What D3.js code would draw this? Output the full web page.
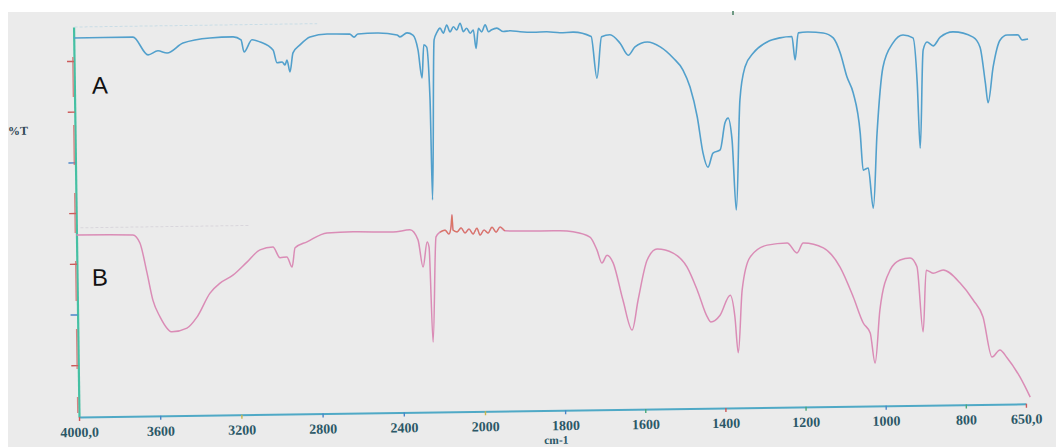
<!DOCTYPE html>
<html><head><meta charset="utf-8">
<script src="https://cdn.jsdelivr.net/npm/d3@7"></script>
<style>html,body{margin:0;padding:0;background:#fff;}svg{display:block;}</style>
</head><body>
<svg id="chart" width="1056" height="447"></svg>
<script>
// ---- data ----
const xTickValues = [4000, 3600, 3200, 2800, 2400, 2000, 1800, 1600, 1400, 1200, 1000, 800, 650];
const xTickLabels = ["4000,0", "3600", "3200", "2800", "2400", "2000", "1800", "1600", "1400", "1200", "1000", "800", "650,0"];
const yTickValues = [13.3, 26.3, 39.3, 52.3, 65.3, 78.3, 91.3];
const seriesNames = ["A", "B"];
const xTitle = "cm-1";
const yTitle = "%T";

const waveA = [4000,3708,3635,3586,3541,3462,3329,3215,3176,3162,3122,3082,3019,3000,2975,2961,2951,2937,2921,2886,2836,2752,2640,2619,2600,2505,2407,2393,2358,2329,2305,2287,2276,2262,2249,2244,2225,2210,2195,2179,2162,2146,2129,2113,2096,2080,2064,2047,2031,2019,2006,1995,1986,1978,1970,1957,1941,1924,1899,1866,1833,1799,1767,1722,1709,1696,1675,1650,1630,1613,1582,1550,1518,1494,1477,1460,1447,1435,1422,1404,1391,1383,1374,1366,1353,1339,1318,1283,1251,1221,1214,1205,1183,1143,1118,1101,1085,1070,1054,1048,1035,1024,1012,995,969,944,919,910,905,894,884,869,851,819,769,752,740,734,720,702,684,657,647,632];
const transA = [97.2,97.2,92.6,93.6,93.0,95.5,96.7,96.9,96.1,93.0,96.1,95.5,93.4,90.1,90.3,89.5,90.8,87.7,92.6,94.6,96.6,97.3,97.2,96.4,97.2,97.4,96.8,96.3,97.3,96.7,92.9,85.7,94.2,93.6,80.0,54.4,95.4,97.4,98.4,97.1,99.2,97.4,98.7,97.9,99.6,97.4,98.3,97.0,97.8,93.1,98.2,97.3,99.1,97.3,97.8,98.2,97.3,97.5,97.2,97.0,97.1,96.8,96.9,95.7,85.0,95.6,96.1,93.9,90.8,92.9,94.1,92.8,89.9,86.8,82.4,74.7,65.5,61.8,65.4,66.2,73.1,74.3,68.7,50.7,78.9,87.4,90.9,93.7,94.7,95.0,89.0,95.9,96.1,95.8,94.5,90.6,84.4,80.3,70.0,60.5,61.0,50.7,69.9,86.8,93.0,95.0,94.2,82.6,65.9,91.1,93.1,92.1,94.3,95.6,94.2,91.6,82.4,77.3,86.5,93.3,94.6,94.6,93.3,93.5];

const waveB = [4000,3722,3688,3655,3628,3594,3536,3462,3412,3346,3296,3232,3162,3097,3033,2999,2965,2940,2924,2865,2766,2637,2440,2357,2318,2295,2273,2264,2251,2229,2209,2184,2165,2154,2149,2145,2125,2105,2086,2066,2046,2027,2012,1996,1986,1976,1966,1956,1944,1889,1806,1774,1732,1715,1703,1690,1675,1652,1630,1614,1590,1565,1525,1491,1466,1442,1433,1410,1384,1373,1366,1354,1333,1290,1240,1216,1200,1150,1109,1077,1053,1036,1025,1011,984,959,934,917,904,894,877,852,810,778,754,733,713,695,664,639];
const transB = [46.7,46.5,44.4,36.7,29.7,25.4,21.5,22.4,25.2,31.3,33.8,35.8,39.1,42.2,42.9,40.1,40.3,37.7,42.6,44.1,46.3,46.5,46.3,46.8,44.2,37.2,43.6,42.3,17.9,44.9,46.1,46.6,45.6,47.6,50.5,46.6,46.1,47.1,45.8,46.8,45.5,47.0,45.2,46.5,45.7,47.2,45.9,47.2,46.2,46.1,46.0,45.7,44.3,41.0,37.6,39.6,37.6,28.1,20.3,28.0,38.2,41.0,39.9,36.3,30.3,23.4,22.1,23.8,28.9,23.3,14.1,30.2,38.6,41.6,42.1,39.5,42.0,40.7,35.7,28.0,21.3,18.7,11.0,24.6,34.8,37.3,37.8,35.5,18.8,34.6,33.8,34.6,31.2,26.8,22.4,12.1,13.9,11.8,6.9,1.7];

// ---- drawing ----
const svg = d3.select("#chart");
svg.append("rect").attr("width", 1056).attr("height", 447).attr("fill", "#ffffff");
svg.append("rect").attr("x", 8).attr("y", 12).attr("width", 1048).attr("height", 435).attr("fill", "#ebebeb");
svg.append("rect").attr("x", 732).attr("y", 11).attr("width", 2).attr("height", 4).attr("fill", "#6f9a84");

const g = svg.append("g").attr("transform", "rotate(-0.8,79,417)");

const x = d3.scaleLinear().domain([4000, 2000, 650]).range([79, 485, 1026]);
const y = d3.scaleLinear().domain([0, 100]).range([417, 27]);

// faint frame guides
g.append("line").attr("x1", x(3995)).attr("x2", x(2800)).attr("y1", y(100)).attr("y2", y(100))
  .attr("stroke", "#c9dde6").attr("stroke-width", 1).attr("stroke-dasharray", "3,2");
g.append("line").attr("x1", x(3980)).attr("x2", x(3150)).attr("y1", y(48.5)).attr("y2", y(48.5))
  .attr("stroke", "#d9d6dc").attr("stroke-width", 1).attr("stroke-dasharray", "3,2");

// left axis
const yAxis = g.append("g").attr("transform", `translate(${x(4000)},0)`)
  .call(d3.axisLeft(y).tickValues(yTickValues).tickSize(7).tickSizeOuter(0).tickFormat(""));
yAxis.select(".domain").attr("stroke", "#45c0a3").attr("stroke-width", 2.2);
const tickCols = ["#cc5a5a", "#4a86c8", "#cc5a5a", "#cc5a5a", "#4a86c8", "#cc5a5a", "#cc5a5a"];
yAxis.selectAll(".tick line").attr("stroke", (d, i) => tickCols[i]).attr("stroke-width", 1.4);
g.append("line").attr("x1", x(4000) - 1.2).attr("x2", x(4000) - 1.2).attr("y1", y(100) + 30).attr("y2", y(0) - 4)
  .attr("stroke", "#d06a6a").attr("stroke-width", 1.3).attr("stroke-dasharray", "40,28").attr("opacity", 0.8);

// bottom axis
const xAxis = g.append("g").attr("transform", `translate(0,${y(0)})`)
  .call(d3.axisBottom(x).tickValues(xTickValues).tickSize(4).tickSizeOuter(0).tickPadding(6)
    .tickFormat((d, i) => xTickLabels[i]));
xAxis.select(".domain").attr("stroke", "#4fa9c6").attr("stroke-width", 2);
const bCols = ["#cc5a5a", "#4a86c8", "#c9b64a", "#4a86c8", "#4a86c8", "#c9b64a", "#4a86c8", "#4aa87a", "#cc5a5a", "#4aa87a", "#4a86c8", "#4aa87a", "#cc5a5a"];
xAxis.selectAll(".tick line").attr("stroke", (d, i) => bCols[i]).attr("stroke-width", 1.4);
xAxis.selectAll(".tick text")
  .attr("fill", "#2b5867").attr("font-family", "'Liberation Serif', 'DejaVu Serif', serif")
  .attr("font-weight", "bold").attr("font-size", 14);

g.append("text").attr("x", x(1823)).attr("y", y(0) + 33.5).attr("text-anchor", "middle")
  .attr("fill", "#2b5867").attr("font-family", "'Liberation Serif', serif").attr("font-weight", "bold")
  .attr("font-size", 11.5).text(xTitle);
g.append("text").attr("x", 22).attr("y", 134).attr("text-anchor", "middle")
  .attr("fill", "#2b4452").attr("font-family", "'Liberation Serif', serif").attr("font-weight", "bold")
  .attr("font-size", 12).text(yTitle);

// spectra
const line = d3.line().x(d => x(d[0])).y(d => y(d[1])).curve(d3.curveMonotoneX);
const dataA = waveA.map((w, i) => [w, transA[i]]);
const dataB = waveB.map((w, i) => [w, transB[i]]);
g.append("path").datum(dataA).attr("d", line).attr("fill", "none")
  .attr("stroke", "#52a0cc").attr("stroke-width", 1.6).attr("stroke-linejoin", "round");
g.append("path").datum(dataB).attr("d", line).attr("fill", "none")
  .attr("stroke", "#da8cb6").attr("stroke-width", 1.5).attr("stroke-linejoin", "round");
g.append("path").datum(dataB.filter(d => d[0] <= 2215 && d[0] >= 1944)).attr("d", line).attr("fill", "none")
  .attr("stroke", "#d9714e").attr("stroke-width", 1.2).attr("opacity", 0.8);

// series labels
g.append("text").attr("x", x(3874)).attr("y", y(82.8)).attr("text-anchor", "middle")
  .attr("font-family", "'Liberation Sans', Arial, sans-serif").attr("font-size", 24).attr("fill", "#111")
  .text(seriesNames[0]);
g.append("text").attr("x", x(3887)).attr("y", y(33.6)).attr("text-anchor", "middle")
  .attr("font-family", "'Liberation Sans', Arial, sans-serif").attr("font-size", 24).attr("fill", "#111")
  .text(seriesNames[1]);
</script>
</body></html>
